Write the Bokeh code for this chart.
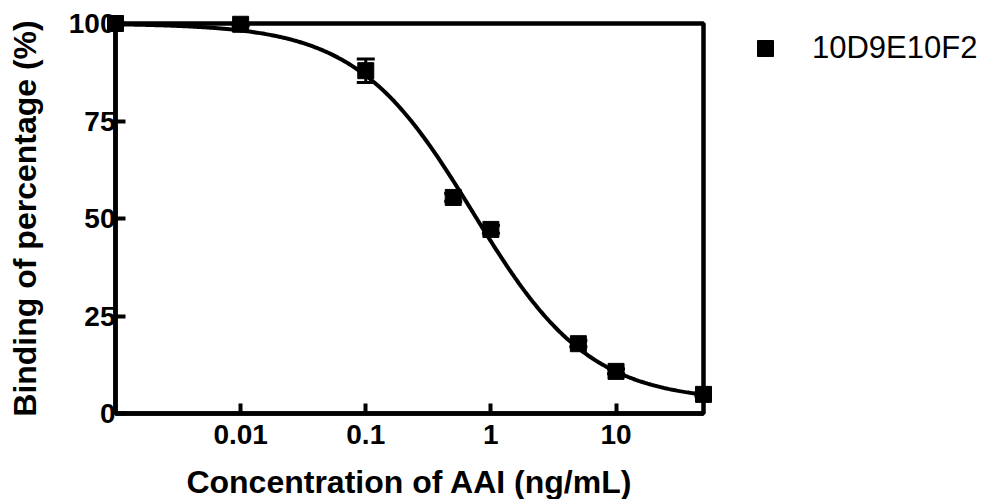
import numpy as np
from bokeh.plotting import figure
from bokeh.models import (Range1d, FixedTicker, Legend, LegendItem, Whisker,
                          ColumnDataSource, TeeHead)
from bokeh.embed import file_html
from bokeh.resources import INLINE

# ---- data ----
conc = [0.001, 0.01, 0.1, 0.5, 1, 5, 10, 50]          # ng/mL
binding = [100.0, 99.8, 87.9, 55.4, 47.2, 17.9, 10.8, 4.9]  # %
err = [0.3, 0.4, 3.0, 1.0, 1.0, 0.8, 0.6, 0.5]
series_name = "10D9E10F2"
# four-parameter logistic fit (as shown by the fitted curve)
fit_top = 100.0
fit_bottom = 3.0
fit_ic50 = 0.72
fit_hill = 0.93
x_ticks = [0.01, 0.1, 1, 10]
x_tick_labels = ["0.01", "0.1", "1", "10"]
y_ticks = [0, 25, 50, 75, 100]
x_title = "Concentration of AAI (ng/mL)"
y_title = "Binding of percentage (%)"

FONT = "Liberation Sans"

p = figure(frame_width=588, frame_height=390, x_axis_type="log",
           x_range=Range1d(0.001, 50), y_range=Range1d(0, 100),
           output_backend="svg", toolbar_location=None,
           min_border_left=115, min_border_top=23,
           min_border_right=279, min_border_bottom=84)
p.grid.visible = False
p.outline_line_color = "black"
p.outline_line_width = 4.5
p.background_fill_color = "white"
p.border_fill_color = "white"

# fitted curve
xc = np.logspace(np.log10(conc[0]), np.log10(conc[-1]), 400)
yc = fit_bottom + (fit_top - fit_bottom) / (1 + (xc / fit_ic50) ** fit_hill)
p.line(xc, yc, line_color="black", line_width=4)

src = ColumnDataSource(dict(x=conc, y=binding,
                            upper=[b + e for b, e in zip(binding, err)],
                            lower=[b - e for b, e in zip(binding, err)]))
wh = Whisker(source=src, base="x", upper="upper", lower="lower",
             dimension="height", line_color="black", line_width=3,
             upper_head=TeeHead(size=18, line_width=3, line_color="black"),
             lower_head=TeeHead(size=18, line_width=3, line_color="black"),
             level="overlay")
p.add_layout(wh)
sc = p.scatter("x", "y", source=src, marker="square", size=16,
               fill_color="black", line_color="black", level="overlay")

# axes
for ax in (p.xaxis[0], p.yaxis[0]):
    ax.axis_line_width = 4.5
    ax.axis_line_color = "black"
    ax.major_tick_line_width = 4
    ax.major_tick_line_color = "black"
    ax.major_tick_in = 10
    ax.major_tick_out = 0
    ax.minor_tick_line_color = None
    ax.major_label_text_font = FONT
    ax.major_label_text_font_style = "bold"
    ax.major_label_text_font_size = "28px"
    ax.major_label_text_color = "black"
    ax.axis_label_text_font = FONT
    ax.axis_label_text_font_style = "bold"
    ax.axis_label_text_font_size = "32px"
    ax.axis_label_text_color = "black"

p.xaxis.ticker = FixedTicker(ticks=x_ticks)
p.xaxis.major_label_overrides = {t: l for t, l in zip(x_ticks, x_tick_labels)}
p.yaxis.ticker = FixedTicker(ticks=y_ticks)
p.xaxis.axis_label = x_title
p.yaxis.axis_label = y_title
p.xaxis.major_label_standoff = 11
p.yaxis.major_label_standoff = 0
p.xaxis.axis_label_standoff = 17
p.yaxis.axis_label_standoff = 23

legend = Legend(items=[LegendItem(label=series_name, renderers=[sc])],
                location=(42, 345), margin=0, padding=0, spacing=0,
                glyph_width=40, glyph_height=40, label_standoff=27,
                label_text_font=FONT, label_text_font_size="31px",
                label_text_color="black",
                border_line_alpha=0, background_fill_alpha=0)
p.add_layout(legend, "right")

open("out.html", "w").write(file_html(p, INLINE))
